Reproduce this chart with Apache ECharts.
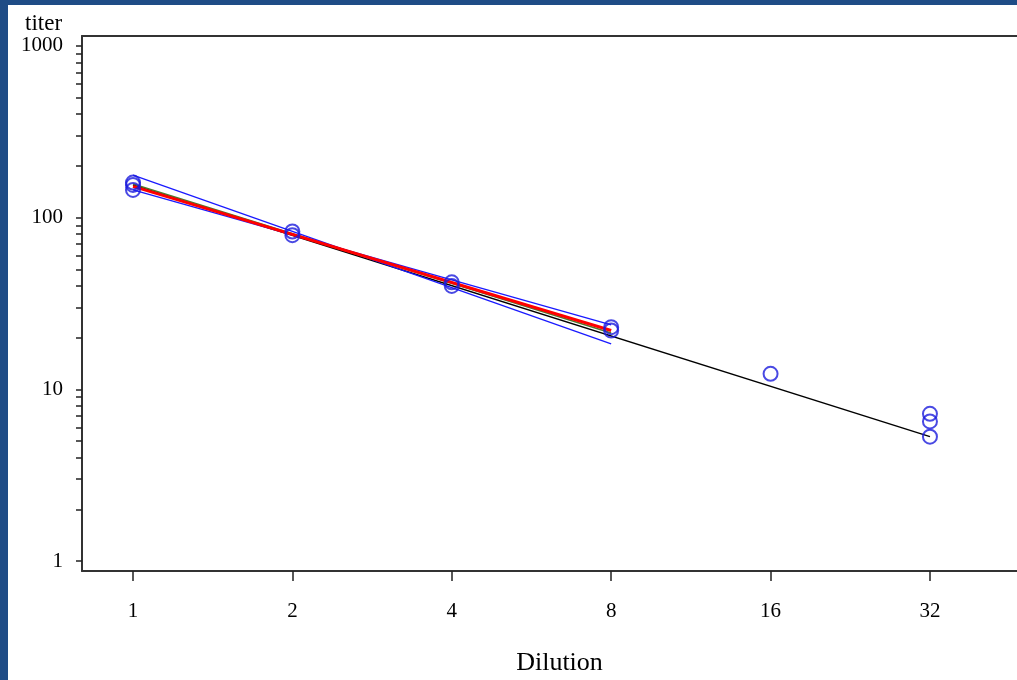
<!DOCTYPE html>
<html>
<head>
<meta charset="utf-8">
<script src="https://cdn.jsdelivr.net/npm/echarts@6/dist/echarts.min.js"></script>
<style>
  html, body { margin: 0; padding: 0; background: #1f4c86; width: 1017px; height: 680px; overflow: hidden; }
  #chart { position: absolute; left: 8px; top: 5px; width: 1009px; height: 675px; background: #ffffff; }
</style>
</head>
<body>
<div id="chart"></div>
<script>
// ---- data ----
const dilution = [1, 1, 1, 2, 2, 4, 4, 8, 8, 16, 32, 32, 32];
const titer    = [160, 155, 145, 83, 79, 42, 40, 23, 22, 12.3, 7.2, 6.5, 5.3];

const overallFitX = [1, 32];
const overallFitY = [155, 5.3];
const redFitX = [1, 8];
const redFitY = [152, 22];
const greenFitX = [1, 8];
const greenFitY = [157, 21.3];
const blueFitAX = [1, 8];
const blueFitAY = [177, 18.4];
const blueFitBX = [1, 8];
const blueFitBY = [145, 23.7];

const xTickValues = [1, 2, 4, 8, 16, 32];
const yLabelValues = [1, 10, 100, 1000];
const yDecades = [1, 10, 100, 1000];
const yMinorMultipliers = [1, 2, 3, 4, 5, 6, 7, 8, 9];

// ---- build ----
const yTickValues = [];
yDecades.forEach(d => yMinorMultipliers.forEach(m => { const v = d * m; if (v <= 1000) yTickValues.push(v); }));

const pairs = (xs, ys) => xs.map((x, i) => [x, ys[i]]);
const font = 'Liberation Serif';

const chart = echarts.init(document.getElementById('chart'));
function lineSeries(xs, ys, color, width, z) {
  return {
    type: 'line', data: pairs(xs, ys), showSymbol: false, symbol: 'none',
    lineStyle: { color: color, width: width }, z: z, silent: true, animation: false
  };
}
chart.setOption({
  animation: false,
  backgroundColor: '#ffffff',
  title: {
    text: 'titer', left: 12, top: 2,
    textStyle: { fontFamily: font, fontSize: 23, fontWeight: 'normal', color: '#000' }
  },
  grid: { left: 74, top: 31, bottom: 109, right: -20, outerBoundsMode: 'none', containLabel: false },
  xAxis: [{
    type: 'log', logBase: 2, min: 0.8011, max: 50.97,
    name: 'Dilution', nameLocation: 'middle', nameGap: 79,
    nameTextStyle: { fontFamily: font, fontSize: 26, color: '#000' },
    axisLine: { show: true, lineStyle: { color: '#333', width: 2 } },
    axisTick: { show: true, customValues: xTickValues, length: 10, lineStyle: { color: '#222', width: 1.5 } },
    axisLabel: { customValues: xTickValues, margin: 30, fontFamily: font, fontSize: 21, color: '#000', formatter: v => String(v) },
    splitLine: { show: false }, minorTick: { show: false }
  }, {
    type: 'log', logBase: 2, min: 0.8011, max: 50.97, position: 'top',
    axisLine: { show: true, lineStyle: { color: '#333', width: 2 } },
    axisTick: { show: false }, axisLabel: { show: false }, splitLine: { show: false }
  }],
  yAxis: {
    type: 'log', logBase: 10, min: 0.8745, max: 1142,
    axisLine: { show: true, lineStyle: { color: '#333', width: 2 } },
    axisTick: { show: true, customValues: yTickValues, length: 6, lineStyle: { color: '#222', width: 1.5 } },
    axisLabel: { customValues: yLabelValues, margin: 19, fontFamily: font, fontSize: 21, lineHeight: 21, color: '#000', padding: [6, 0, 0, 0], formatter: v => String(v) },
    splitLine: { show: false }, minorTick: { show: false }
  },
  series: [
    lineSeries(overallFitX, overallFitY, '#000000', 1.5, 2),
    lineSeries(greenFitX, greenFitY, '#4d7a2a', 1.5, 3),
    lineSeries(blueFitAX, blueFitAY, '#1a1aff', 1.3, 4),
    lineSeries(blueFitBX, blueFitBY, '#1a1aff', 1.3, 4),
    lineSeries(redFitX, redFitY, '#ff0000', 3, 5),
    {
      type: 'scatter', data: pairs(dilution, titer), symbol: 'circle', symbolSize: 14,
      itemStyle: { color: 'rgba(0,0,0,0)', borderColor: '#1c1cdc', borderWidth: 2 }, z: 6, animation: false
    }
  ]
});
</script>
</body>
</html>
